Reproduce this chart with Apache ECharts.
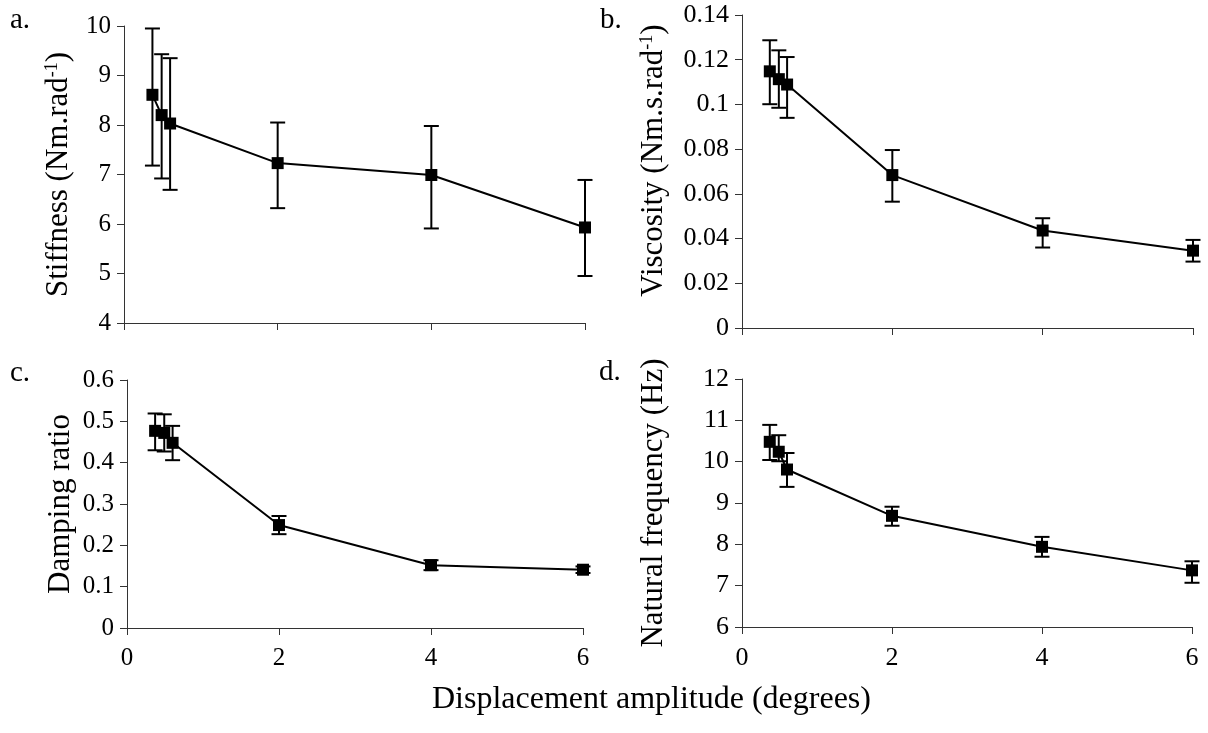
<!DOCTYPE html>
<html>
<head>
<meta charset="utf-8">
<script src="https://cdn.jsdelivr.net/npm/echarts@6/dist/echarts.min.js"></script>
<style>
    html, body { margin: 0; padding: 0; background: #fff; }
    #chart { width: 1208px; height: 733px; }
</style>
</head>
<body>
<div id="chart"></div>
<script>
// displacement amplitude (degrees)
var amplitude = [0.37, 0.49, 0.6, 2, 4, 6];

// a. stiffness
var stiffMean = [8.61, 8.20, 8.03, 7.23, 6.99, 5.93];
var stiffHigh = [9.95, 9.43, 9.35, 8.05, 7.98, 6.89];
var stiffLow = [7.18, 6.92, 6.69, 6.32, 5.91, 4.95];

// b. viscosity
var viscMean = [0.1148, 0.1113, 0.1089, 0.0684, 0.0436, 0.0346];
var viscHigh = [0.1287, 0.1242, 0.1212, 0.0796, 0.0491, 0.0394];
var viscLow = [0.1001, 0.0985, 0.0940, 0.0565, 0.0360, 0.0297];

// c. damping ratio
var dampMean = [0.477, 0.472, 0.448, 0.249, 0.152, 0.141];
var dampHigh = [0.519, 0.517, 0.489, 0.271, 0.164, 0.149];
var dampLow = [0.430, 0.427, 0.406, 0.227, 0.140, 0.133];

// d. natural frequency
var freqMean = [10.48, 10.24, 9.81, 8.69, 7.94, 7.37];
var freqHigh = [10.89, 10.64, 10.21, 8.91, 8.18, 7.59];
var freqLow = [10.04, 10.01, 9.39, 8.45, 7.70, 7.07];

var xTicks = [0, 2, 4, 6];

var FONT = 'Liberation Serif, Times New Roman, serif';

var chart = echarts.init(document.getElementById('chart'));

function pairs(xs, ys) {
    var out = [];
    for (var i = 0; i < xs.length; i++) {
        out.push([xs[i], ys[i]]);
    }
    return out;
}

function errData(xs, lo, hi) {
    var out = [];
    for (var i = 0; i < xs.length; i++) {
        out.push([xs[i], lo[i], hi[i]]);
    }
    return out;
}

function renderErr(params, api) {
    var x = api.value(0);
    var top = api.coord([x, api.value(2)]);
    var bot = api.coord([x, api.value(1)]);
    var w = 7.5;
    var st = { stroke: '#000', lineWidth: 2 };
    return {
        type: 'group',
        children: [
            { type: 'line', shape: { x1: top[0], y1: top[1], x2: bot[0], y2: bot[1] }, style: st },
            { type: 'line', shape: { x1: top[0] - w, y1: top[1], x2: top[0] + w, y2: top[1] }, style: st },
            { type: 'line', shape: { x1: bot[0] - w, y1: bot[1], x2: bot[0] + w, y2: bot[1] }, style: st }
        ]
    };
}

function xAxisFor(idx, showLabels, fs) {
    return {
        gridIndex: idx,
        type: 'value',
        min: xTicks[0],
        max: xTicks[xTicks.length - 1],
        interval: 2,
        splitLine: { show: false },
        axisLine: { show: true, onZero: false, lineStyle: { color: '#333', width: 1 } },
        axisTick: { show: true, length: 7, lineStyle: { color: '#333' } },
        axisLabel: { show: showLabels, margin: 18, color: '#000', fontFamily: FONT, fontSize: fs }
    };
}

function yAxisFor(idx, min, max, interval, name, gap, fs, pad) {
    return {
        gridIndex: idx,
        type: 'value',
        min: min,
        max: max,
        interval: interval,
        name: name,
        nameLocation: 'middle',
        nameRotate: 90,
        nameGap: gap,
        nameTextStyle: {
            fontFamily: FONT,
            fontSize: 31,
            color: '#000',
            padding: pad || 0,
            rich: {
                n: { fontFamily: FONT, fontSize: 31, color: '#000', verticalAlign: 'bottom' },
                sup: { fontFamily: FONT, fontSize: 18, color: '#000', verticalAlign: 'top' }
            }
        },
        splitLine: { show: false },
        axisLine: { show: true, lineStyle: { color: '#333', width: 1 } },
        axisTick: { show: true, length: 7, lineStyle: { color: '#333' } },
        axisLabel: { margin: 13, color: '#000', fontFamily: FONT, fontSize: fs }
    };
}

function lineSeries(idx, ys) {
    return {
        type: 'line',
        xAxisIndex: idx,
        yAxisIndex: idx,
        data: pairs(amplitude, ys),
        symbol: 'rect',
        symbolSize: 12,
        itemStyle: { color: '#000' },
        lineStyle: { color: '#000', width: 2 },
        animation: false,
        z: 3
    };
}

function errSeries(idx, lo, hi) {
    return {
        type: 'custom',
        xAxisIndex: idx,
        yAxisIndex: idx,
        data: errData(amplitude, lo, hi),
        renderItem: renderErr,
        encode: { x: 0, y: [1, 2] },
        animation: false,
        z: 2
    };
}

function letter(txt, x, y) {
    return {
        type: 'text',
        left: x,
        top: y,
        style: { text: txt, fontFamily: FONT, fontSize: 29, fill: '#000' }
    };
}

var option = {
    backgroundColor: '#fff',
    animation: false,
    grid: [
        { left: 124, top: 26, width: 461, height: 297 },
        { left: 742, top: 15, width: 451, height: 313 },
        { left: 127, top: 380, width: 456, height: 248 },
        { left: 742, top: 379, width: 450, height: 248 }
    ],
    xAxis: [
        xAxisFor(0, false, 25),
        xAxisFor(1, false, 26),
        xAxisFor(2, true, 25),
        xAxisFor(3, true, 26)
    ],
    yAxis: [
        yAxisFor(0, 4, 10, 1, '{n|Stiffness (Nm.rad}{sup|-1}{n|)}', 50, 25),
        yAxisFor(1, 0, 0.14, 0.02, '{n|Viscosity (Nm.s.rad}{sup|-1}{n|)}', 73, 26, [0, 0, 0, 22]),
        yAxisFor(2, 0, 0.6, 0.1, '{n|Damping ratio}', 51, 25),
        yAxisFor(3, 6, 12, 1, '{n|Natural frequency (Hz)}', 73, 26)
    ],
    series: [
        errSeries(0, stiffLow, stiffHigh),
        lineSeries(0, stiffMean),
        errSeries(1, viscLow, viscHigh),
        lineSeries(1, viscMean),
        errSeries(2, dampLow, dampHigh),
        lineSeries(2, dampMean),
        errSeries(3, freqLow, freqHigh),
        lineSeries(3, freqMean)
    ],
    graphic: [
        letter('a.', 10, 6),
        letter('b.', 600, 6),
        letter('c.', 10, 359),
        letter('d.', 599, 358),
        {
            type: 'text',
            left: 432,
            top: 684,
            style: { text: 'Displacement amplitude (degrees)', fontFamily: FONT, fontSize: 32, fill: '#000' }
        }
    ]
};

chart.setOption(option);
</script>
</body>
</html>
